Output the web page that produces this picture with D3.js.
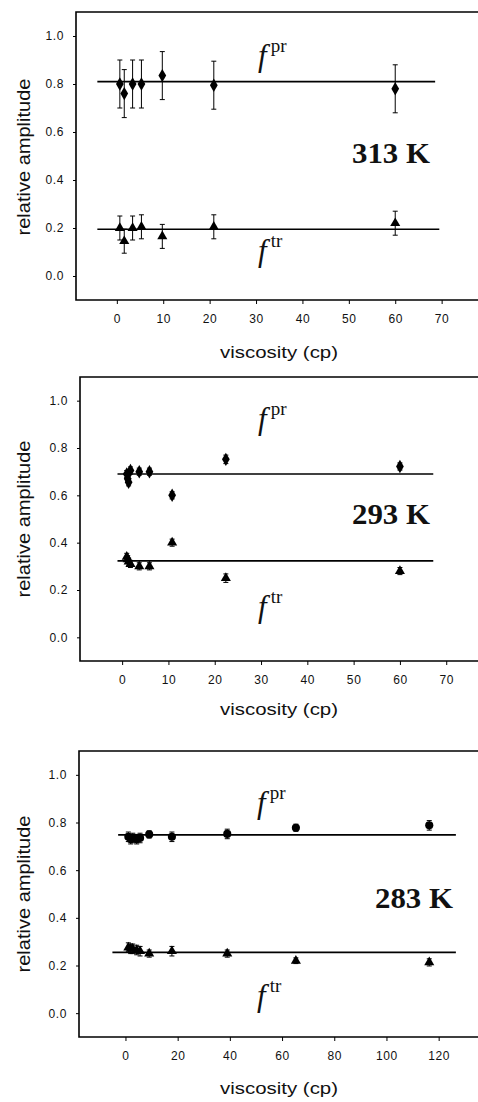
<!DOCTYPE html>
<html>
<head>
<meta charset="utf-8">
<script src="https://cdn.jsdelivr.net/npm/d3@7"></script>
<style>
  html, body { margin: 0; padding: 0; background: #fff; }
  svg { display: block; }
  .tick text { font-family: "Liberation Sans", Arial, sans-serif; }
</style>
</head>
<body>
<svg id="chart" width="478" height="1102"></svg>
<script>
// ---- data: relative amplitudes of the pr / tr components vs. viscosity ----
const yTicks = [0.0, 0.2, 0.4, 0.6, 0.8, 1.0];

// 313 K
const visc313   = [0.65, 1.6, 3.4, 5.3, 9.8, 20.9, 60];
const pr313     = [0.80, 0.76, 0.80, 0.80, 0.835, 0.795, 0.78];
const prErr313  = [0.10, 0.10, 0.10, 0.10, 0.10, 0.10, 0.10];
const tr313     = [0.20, 0.145, 0.20, 0.205, 0.165, 0.205, 0.22];
const trErr313  = [0.05, 0.05, 0.05, 0.05, 0.05, 0.05, 0.05];
const fit313    = { pr: 0.81, tr: 0.195 };
const xTicks313 = [0, 10, 20, 30, 40, 50, 60, 70];

// 293 K
const visc293   = [1.0, 1.2, 1.4, 1.8, 3.7, 5.9, 10.8, 22.4, 60];
const pr293     = [0.69, 0.67, 0.655, 0.705, 0.70, 0.70, 0.60, 0.752, 0.722];
const prErr293  = [0.015, 0.015, 0.015, 0.015, 0.015, 0.015, 0.015, 0.018, 0.015];
const tr293     = [0.34, 0.33, 0.32, 0.31, 0.30, 0.30, 0.40, 0.25, 0.28];
const trErr293  = [0.015, 0.015, 0.015, 0.015, 0.015, 0.015, 0.015, 0.018, 0.015];
const fit293    = { pr: 0.69, tr: 0.323 };
const xTicks293 = [0, 10, 20, 30, 40, 50, 60, 70];

// 283 K
const visc283   = [1.1, 2.0, 2.8, 4.3, 5.6, 9.1, 17.8, 39, 65.3, 116.4];
const pr283     = [0.74, 0.73, 0.735, 0.73, 0.735, 0.75, 0.74, 0.752, 0.778, 0.788];
const prErr283  = [0.02, 0.02, 0.02, 0.02, 0.02, 0.015, 0.02, 0.02, 0.015, 0.02];
const tr283     = [0.275, 0.27, 0.27, 0.265, 0.26, 0.25, 0.26, 0.25, 0.22, 0.213];
const trErr283  = [0.02, 0.02, 0.02, 0.02, 0.02, 0.015, 0.02, 0.015, 0.012, 0.015];
const fit283    = { pr: 0.748, tr: 0.255 };
const xTicks283 = [0, 20, 40, 60, 80, 100, 120];

// ---- panel layout ----
const panels = [
  { temp: "313 K", visc: visc313, pr: pr313, prErr: prErr313, tr: tr313, trErr: trErr313,
    fit: fit313, xTicks: xTicks313, prShape: d3.symbolDiamond,
    left: 76, top: 12, bottom: 300, xDom: [-8.8, 80], pxPerUnit: 4.64,
    prSpan: [-4.2, 68.6], trSpan: [-4.2, 69.5],
    fPr: [258, 66], fTr: [258, 261], tempPos: [352, 163], xLabelY: 358, yLabelY: 157 },
  { temp: "293 K", visc: visc293, pr: pr293, prErr: prErr293, tr: tr293, trErr: trErr293,
    fit: fit293, xTicks: xTicks293, prShape: d3.symbolDiamond,
    left: 80, top: 377, bottom: 661, xDom: [-9.1, 80], pxPerUnit: 4.63,
    prSpan: [-1, 67.2], trSpan: [-1, 67.2],
    fPr: [258, 429], fTr: [258, 617], tempPos: [352, 524], xLabelY: 715, yLabelY: 519 },
  { temp: "283 K", visc: visc283, pr: pr283, prErr: prErr283, tr: tr283, trErr: trErr283,
    fit: fit283, xTicks: xTicks283, prShape: d3.symbolCircle,
    left: 79, top: 751, bottom: 1037, xDom: [-17.8, 140], pxPerUnit: 2.61,
    prSpan: [-2.8, 126.6], trSpan: [-5, 126.6],
    fPr: [257, 813], fTr: [257, 1006], tempPos: [375, 908], xLabelY: 1094, yLabelY: 894 }
];

const svg = d3.select("#chart");

panels.forEach(p => {
  const x = d3.scaleLinear()
    .domain(p.xDom)
    .range([p.left, p.left + (p.xDom[1] - p.xDom[0]) * p.pxPerUnit]);
  const y = d3.scaleLinear().domain([-0.1, 1.1]).range([p.bottom, p.top]);

  const g = svg.append("g");

  // frame: left, top and bottom edges (right edge runs off the page)
  g.append("path")
    .attr("d", `M${x.range()[1]},${p.top}H${p.left}V${p.bottom}H${x.range()[1]}`)
    .attr("fill", "none").attr("stroke", "#000").attr("stroke-width", 1.6);

  // axes
  const xAxis = d3.axisBottom(x).tickValues(p.xTicks).tickFormat(d3.format("d"))
    .tickSize(4).tickPadding(10);
  const yAxis = d3.axisLeft(y).tickValues(yTicks).tickFormat(d3.format(".1f"))
    .tickSize(3).tickPadding(9);

  const gx = g.append("g").attr("transform", `translate(0,${p.bottom})`).call(xAxis);
  const gy = g.append("g").attr("transform", `translate(${p.left},0)`).call(yAxis);
  [gx, gy].forEach(a => {
    a.select(".domain").remove();
    a.selectAll(".tick line").attr("stroke", "#000").attr("stroke-width", 1);
    a.selectAll(".tick text").attr("font-size", 12).attr("fill", "#111")
      .attr("letter-spacing", 0.6);
  });

  // axis titles
  g.append("text")
    .attr("x", 279).attr("y", p.xLabelY)
    .attr("text-anchor", "middle")
    .attr("font-family", "Liberation Sans, Arial, sans-serif")
    .attr("font-size", 17).attr("fill", "#111")
    .attr("textLength", 118).attr("lengthAdjust", "spacingAndGlyphs")
    .text("viscosity (cp)");

  g.append("text")
    .attr("transform", `translate(30,${p.yLabelY}) rotate(-90)`)
    .attr("text-anchor", "middle")
    .attr("font-family", "Liberation Sans, Arial, sans-serif")
    .attr("font-size", 18).attr("fill", "#111")
    .attr("textLength", 157).attr("lengthAdjust", "spacingAndGlyphs")
    .text("relative amplitude");

  // horizontal fit lines
  g.append("line")
    .attr("x1", x(p.prSpan[0])).attr("x2", x(p.prSpan[1]))
    .attr("y1", y(p.fit.pr)).attr("y2", y(p.fit.pr))
    .attr("stroke", "#000").attr("stroke-width", 1.6);
  g.append("line")
    .attr("x1", x(p.trSpan[0])).attr("x2", x(p.trSpan[1]))
    .attr("y1", y(p.fit.tr)).attr("y2", y(p.fit.tr))
    .attr("stroke", "#000").attr("stroke-width", 1.6);

  // error bars + markers
  const series = [
    { vals: p.pr, errs: p.prErr, shape: p.prShape, size: 52 },
    { vals: p.tr, errs: p.trErr, shape: d3.symbolTriangle, size: 44 }
  ];
  series.forEach(s => {
    const pts = p.visc.map((v, i) => ({ v, a: s.vals[i], e: s.errs[i] }));
    const eb = g.append("g").attr("stroke", "#000").attr("stroke-width", 1);
    eb.selectAll("line.bar").data(pts).join("line").attr("class", "bar")
      .attr("x1", d => x(d.v)).attr("x2", d => x(d.v))
      .attr("y1", d => y(d.a - d.e)).attr("y2", d => y(d.a + d.e));
    eb.selectAll("line.capT").data(pts).join("line").attr("class", "capT")
      .attr("x1", d => x(d.v) - 2.5).attr("x2", d => x(d.v) + 2.5)
      .attr("y1", d => y(d.a + d.e)).attr("y2", d => y(d.a + d.e));
    eb.selectAll("line.capB").data(pts).join("line").attr("class", "capB")
      .attr("x1", d => x(d.v) - 2.5).attr("x2", d => x(d.v) + 2.5)
      .attr("y1", d => y(d.a - d.e)).attr("y2", d => y(d.a - d.e));
    g.selectAll(null).data(pts).join("path")
      .attr("transform", d => `translate(${x(d.v)},${y(d.a)})`)
      .attr("d", d3.symbol().type(s.shape).size(s.size))
      .attr("fill", "#000");
  });

  // component labels f^pr and f^tr
  const fLabel = (pos, sup) => {
    const t = g.append("text")
      .attr("x", pos[0]).attr("y", pos[1])
      .attr("font-family", "Liberation Serif, Times New Roman, serif")
      .attr("fill", "#111");
    t.append("tspan").attr("font-style", "italic").attr("font-size", 31).text("f");
    t.append("tspan").attr("dx", 4).attr("dy", -14).attr("font-size", 19).text(sup);
  };
  fLabel(p.fPr, "pr");
  fLabel(p.fTr, "tr");

  // temperature tag
  g.append("text")
    .attr("x", p.tempPos[0]).attr("y", p.tempPos[1])
    .attr("font-family", "Liberation Serif, Times New Roman, serif")
    .attr("font-weight", "bold").attr("font-size", 30).attr("fill", "#111")
    .attr("textLength", 78).attr("lengthAdjust", "spacingAndGlyphs")
    .text(p.temp);
});
</script>
</body>
</html>
